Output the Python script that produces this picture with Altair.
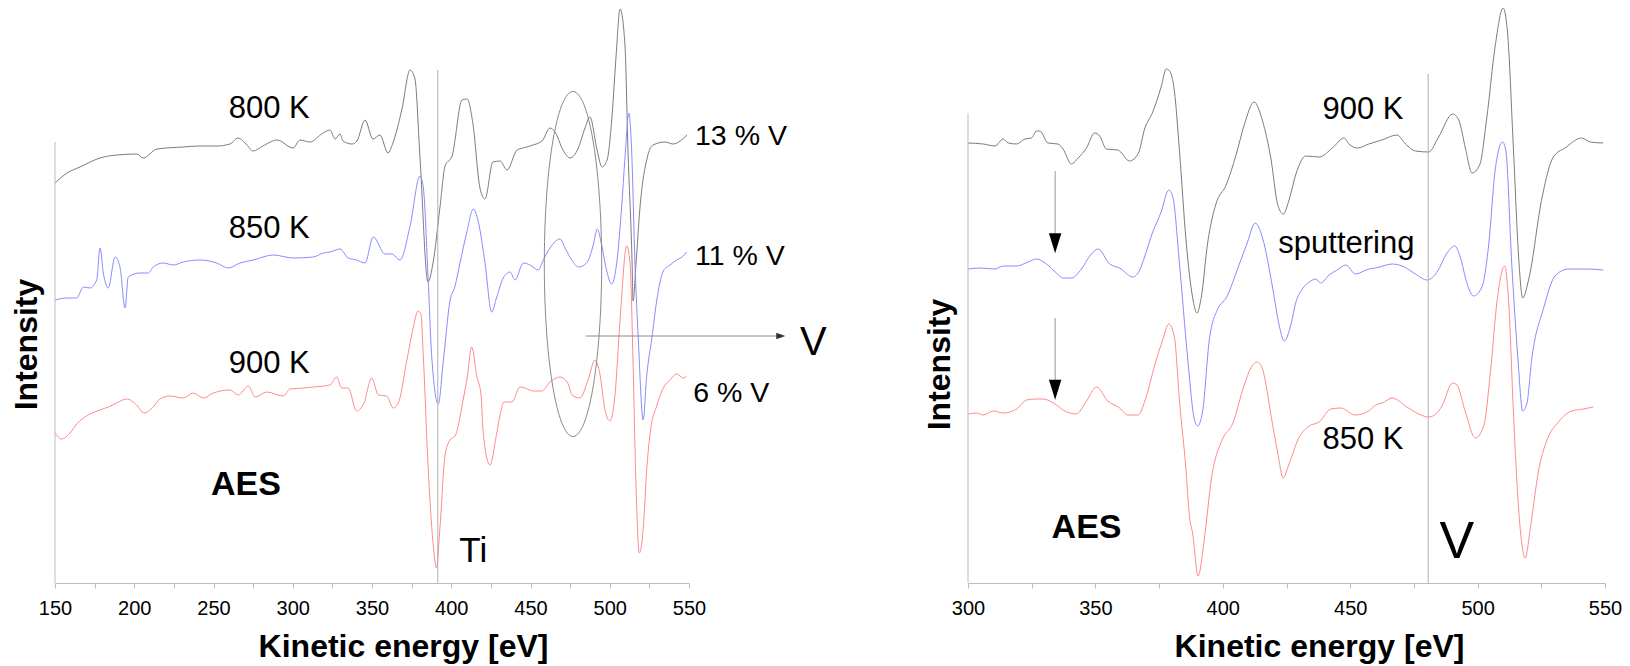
import math
import altair as alt
import pandas as pd

# ---------------- values ----------------
# (kinetic energy in eV, intensity in arbitrary units, offset curves)
LEFT_800K = [(150.0,400),(157.6,410),(165.8,416),(178.4,425),(189.1,428),(201.7,429),(205.5,425),(214.4,434),
 (230.8,436),(241.5,437),(252.2,437),(260.4,439),(265.5,445),(271.1,438),(274.9,432),(281.2,437),(290.1,443),
 (300.2,435),(304.6,443),(310.9,441),(319.1,450),(323.5,453),(326.7,444),(329.8,449),(331.7,442),(337.4,439),
 (340.5,442),(345.6,463),(350.6,444),(355.0,448),(360.1,430),(363.2,440),(368.9,474),(374.0,513),(377.1,504),
 (380.3,425),(385.3,301),(388.5,320),(392.9,376),(396.1,417),(400.5,427),(406.8,483),(410.0,484),(413.7,459),
 (418.1,395),(421.3,384),(426.3,421),(430.8,422),(435.2,413),(441.5,433),(445.3,435),(451.6,438),(457.3,442),
 (462.3,455),(465.5,451),(470.5,433),(474.9,425),(479.9,434),(484.4,455),(487.5,466),(492.0,433),(495.1,416),
 (498.3,423),(501.4,466),(504.0,527),(506.5,574),(509.6,538),(511.5,433),(514.1,320),(514.7,282),(516.6,320),
 (519.1,376),(523.6,425),(527.3,438),(534.9,441),(540.0,439),(544.4,442),(548.7,448)]
LEFT_850K = [(150.0,283),(157.4,285),(163.7,285),(167.9,296),(172.1,295),(176.3,303),(178.4,335),(180.5,310),
 (183.6,295),(187.9,326),(191.0,316),(194.2,275),(196.2,306),(203.6,310),(208.9,310),(212.0,316),(218.3,320),
 (224.6,318),(230.9,321),(241.5,323),(252.0,320),(259.3,315),(266.7,320),(275.1,323),(287.7,328),(300.3,325),
 (313.0,326),(319.3,330),(323.5,331),(329.8,334),(335.0,325),(340.3,323),(345.6,320),(350.8,346),(358.2,329),
 (362.4,329),(367.7,323),(374.0,357),(380.3,407),(382.4,395),(385.5,301),(387.7,226),(391.8,179),(395.0,222),
 (399.2,282),(402.4,297),(405.5,320),(409.7,350),(413.9,374),(417.1,361),(421.3,320),(425.5,271),(428.7,286),
 (432.8,305),(437.1,311),(440.2,303),(445.5,320),(449.7,318),(454.9,313),(458.1,323),(462.3,335),(468.6,344),
 (471.8,335),(476.0,323),(480.2,316),(485.4,320),(489.6,338),(492.1,354),(494.9,338),(498.1,312),(501.2,299),
 (504.4,320),(507.5,376),(509.6,425),(512.1,470),(513.8,433),(515.9,320),(518.0,244),(521.1,163),(523.3,207),
 (526.5,244),(529.6,282),(533.8,312),(538.0,318),(542.2,323),(546.4,327),(548.5,331)]
LEFT_900K = [(150.0,150),(154.2,144),(159.5,150),(163.7,159),(171.0,168),(178.4,173),(183.6,176),(188.9,180),
 (195.2,184),(201.5,178),(206.1,170),(212.0,176),(216.2,184),(222.6,187),(230.9,185),(237.3,190),(243.6,185),
 (249.9,190),(260.4,193),(265.6,188),(272.0,197),(276.2,186),(283.6,191),(294.0,187),(298.3,194),(306.7,195),
 (313.0,196),(323.5,198),(327.7,206),(330.9,195),(335.0,195),(340.3,172),(344.9,180),(349.8,205),(354.0,188),
 (359.3,187),(363.4,175),(366.6,180),(371.9,222),(376.1,256),(379.0,272),(380.9,269),(382.4,226),(385.5,113),
 (388.7,37),(390.7,15),(392.9,56),(396.1,128),(399.2,143),(402.4,147),(407.6,184),(410.0,205),(412.9,236),
 (416.1,207),(418.8,188),(420.2,150),(424.4,118),(428.7,150),(430.8,168),(433.3,181),(438.3,181),(443.4,196),
 (446.5,195),(451.8,192),(457.1,192),(462.3,201),(468.6,206),(473.8,199),(476.2,188),(481.2,185),(486.3,203),
 (490.7,223),(493.8,209),(497.0,173),(500.1,162),(503.3,188),(506.5,263),(510.7,337),(512.8,320),(514.9,207),
 (516.6,94),(518.7,30),(521.2,56),(523.3,113),(525.5,150),(529.6,177),(533.8,195),(538.0,203),(542.2,209),
 (546.4,205),(548.5,207)]

RIGHT_900K = [(300.0,440),(306.0,439),(310.6,437),(313.8,444),(315.8,440),(319.1,439),(322.3,444),(324.9,445),
 (326.9,452),(328.2,452),(331.4,440),(335.3,439),(337.3,434),(340.6,419),(343.2,425),(346.5,435),(349.7,450),
 (351.7,447),(354.3,434),(358.8,433),(363.4,422),(366.9,430),(369.3,454),(372.5,471),(375.8,496),(377.8,514),
 (379.1,512),(381.0,492),(383.0,432),(385.6,342),(388.2,285),(389.9,270),(391.5,285),(394.1,341),(397.3,379),
 (401.3,398),(405.2,428),(408.4,458),(412.3,481),(415.6,462),(418.9,424),(421.5,379),(423.7,369),(426.0,383),
 (428.7,409),(432.6,427),(437.8,426),(443.0,435),(447.6,445),(449.5,439),(452.8,435),(457.3,439),(462.4,443),
 (468.4,448),(471.7,439),(475.6,432),(480.8,431),(484.7,446),(490.2,469),(492.6,463),(495.2,435),(497.8,410),
 (500.8,418),(503.6,465),(506.9,537),(510.0,575),(511.7,552),(514.1,432),(516.1,326),(517.7,285),(520.0,303),
 (525.4,387),(529.7,426),(534.3,435),(540.8,445),(544.2,441),(549.3,440)]
RIGHT_SPUT = [(300.0,314),(304.7,315),(310.6,314),(313.8,317),(319.1,317),(323.6,321),(326.9,324),(330.8,319),
 (334.7,310),(337.3,305),(340.6,305),(344.5,314),(348.4,329),(351.0,334),(355.6,319),(359.5,315),(364.7,306),
 (367.4,313),(369.3,326),(372.5,351),(375.8,371),(378.8,393),(380.4,386),(383.0,319),(386.2,225),(388.8,164),
 (390.1,157),(392.1,172),(394.7,243),(398.0,274),(401.3,285),(406.5,319),(409.7,341),(412.7,360),(415.6,345),
 (419.5,296),(422.1,258),(424.1,242),(426.7,258),(428.7,281),(431.2,294),(434.5,302),(436.5,304),(438.4,300),
 (441.7,308),(444.9,313),(448.2,318),(452.1,309),(457.3,314),(460.0,315),(466.5,319),(470.4,317),(475.6,309),
 (480.2,303),(484.1,311),(488.0,330),(491.0,337),(493.2,326),(495.8,300),(498.4,287),(501.7,296),(504.3,337),
 (506.9,413),(509.8,441),(511.1,432),(513.4,319),(515.8,225),(517.7,172),(519.3,179),(521.3,225),(525.8,274),
 (530.4,307),(535.6,314),(540.2,314),(543.4,314),(549.3,313)]
RIGHT_850K = [(300.1,169),(303.4,170),(306.0,168),(309.9,172),(313.8,170),(319.1,174),(323.0,183),(326.9,184),
 (329.5,184),(334.1,179),(338.0,172),(342.5,169),(346.5,182),(350.4,196),(354.9,182),(359.5,175),(362.7,168),
 (366.7,168),(369.9,186),(373.2,217),(376.4,243),(378.8,259),(381.0,246),(383.0,182),(385.6,112),(386.9,67),
 (388.2,49),(390.3,7),(392.8,45),(395.5,104),(399.9,144),(403.8,159),(408.4,198),(411.0,215),(413.5,221),
 (415.6,214),(416.9,199),(418.9,168),(421.5,131),(423.7,105),(426.0,119),(430.0,146),(433.9,157),(437.8,161),
 (442.4,174),(446.3,175),(451.9,168),(457.3,172),(460.0,178),(462.6,180),(466.5,185),(472.2,176),(476.9,169),
 (480.8,166),(484.7,172),(486.0,177),(490.2,200),(491.9,198),(495.2,171),(499.1,145),(502.4,157),(505.0,210),
 (507.6,281),(510.6,317),(512.2,281),(514.1,168),(516.1,74),(518.7,25),(520.7,55),(523.9,112),(527.1,142),
 (531.7,161),(536.9,172),(541.5,174),(545.4,176)]

LEFT_NAMES = ["800 K", "850 K", "900 K"]
RIGHT_NAMES = ["900 K", "sputtering", "850 K"]
CURVE_COLORS = ["#7c7c7c", "#8a8aff", "#ff8a8a"]

LEFT_TICKS = list(range(150, 551, 25))
RIGHT_TICKS = list(range(300, 551, 25))

# annotations (energy, intensity)
LEFT_TXT = ["800 K", "850 K", "900 K", "13 % V", "11 % V", "6 % V", "Ti", "V"]
LEFT_TXT_E = [259.6, 259.6, 259.6, 553.8, 553.8, 552.7, 405.1, 620.0]
LEFT_TXT_I = [464.7, 344.7, 209.7, 438.0, 318.0, 181.3, 20.7, 228.0]
LEFT_TXT_FS = [31, 31, 31, 28.5, 28.5, 28.5, 35, 40]
RIGHT_TXT = ["900 K", "sputtering", "850 K", "V"]
RIGHT_TXT_E = [439.1, 421.8, 439.1, 485.0]
RIGHT_TXT_I = [463.7, 330.3, 133.7, 24.7]
RIGHT_TXT_FS = [31, 31, 31, 52]
LEFT_BOLD = ("AES", 248.4, 88.0, 34)
RIGHT_BOLD = ("AES", 332.8, 44.7, 34)

LEFT_MARKER = (391.5, 513)    # Ti line: energy, top
RIGHT_MARKER = (480.6, 509)   # V line
LEFT_AXIS_TOP = 441
RIGHT_AXIS_TOP = 470
ELLIPSE = (476.8, 319, 18.1, 172.5)  # centre E, centre I, half-width (eV), half-height
LEFT_ARROW = (485.0, 606.0, 247, 607.9)   # E start, E end, I, head centre E
RIGHT_ARROWS_E = 334.2
RIGHT_ARROWS = [(412, 345, 339.8), (265, 200, 193.3)]  # I start, I end, head centre I

FONT = "Liberation Sans"
XL = alt.Scale(domain=[150, 550], range=[0, 634], nice=False, zero=False)
XR = alt.Scale(domain=[300, 550], range=[913, 1550], nice=False, zero=False)
YS = alt.Scale(domain=[0, 575], nice=False, zero=False)


def x_axis(ticks, title_x):
    return alt.Axis(values=ticks, format="d",
                    labelExpr="datum.value % 50 === 0 ? datum.label : ''",
                    title="Kinetic energy [eV]", titleFont=FONT, titleFontSize=32,
                    titleFontWeight="bold", titleColor="black", titleX=title_x, titleY=48.5,
                    titleBaseline="top", titleAlign="center",
                    labelFont=FONT, labelFontSize=20, labelColor="black", labelPadding=10,
                    labelFlush=False, labelOverlap=False, tickSize=5, tickColor="#bdbdbd",
                    tickWidth=1, domainColor="#bdbdbd", domainWidth=1, grid=False, orient="bottom")


def y_axis(title_x, title_y):
    return alt.Axis(title="Intensity", titleFont=FONT, titleFontSize=32, titleFontWeight="bold",
                    titleColor="black", titleX=title_x, titleY=title_y, titleAngle=270,
                    titleBaseline="alphabetic", titleAlign="center", domain=False, ticks=False,
                    labels=False, grid=False, orient="left")


def curves_df(curves, names):
    rows = []
    for c, n, col in zip(curves, names, CURVE_COLORS):
        for k, (e, i) in enumerate(c):
            rows.append({"E": e, "I": i, "series": n, "col": col, "ord": k})
    return pd.DataFrame(rows)


def panel(curves, names, xs, xax, yax, txt, txt_e, txt_i, txt_fs, bold, marker, axis_top, x0):
    X = lambda f: alt.X(f, scale=xs, axis=xax)
    Y = lambda f: alt.Y(f, scale=YS, axis=yax)
    lines = alt.Chart(curves_df(curves, names)).mark_line(
        strokeWidth=1, interpolate="monotone").encode(
        x=X("E:Q"), y=Y("I:Q"), color=alt.Color("col:N", scale=None),
        detail="series:N", order="ord:Q")
    rules = alt.Chart(pd.DataFrame({"E": [marker[0], x0], "y0": [0, 0], "y1": [marker[1], axis_top],
                                    "c": ["#b0b0b0", "#bdbdbd"]})).mark_rule(strokeWidth=1).encode(
        x=X("E:Q"), y=Y("y0:Q"), y2="y1:Q", color=alt.Color("c:N", scale=None))
    tdf = pd.DataFrame({"E": txt_e, "I": txt_i, "txt": txt, "fs": txt_fs})
    texts = alt.Chart(tdf).mark_text(align="left", baseline="alphabetic", font=FONT,
                                     color="black").encode(
        x=X("E:Q"), y=Y("I:Q"), text="txt:N", size=alt.Size("fs:Q", scale=None))
    bdf = pd.DataFrame({"E": [bold[1]], "I": [bold[2]], "txt": [bold[0]]})
    btext = alt.Chart(bdf).mark_text(align="left", baseline="alphabetic", font=FONT,
                                     fontWeight="bold", fontSize=bold[3], color="black").encode(
        x=X("E:Q"), y=Y("I:Q"), text="txt:N")
    return [lines, rules, texts, btext], X, Y


left_layers, XLf, YLf = panel([LEFT_800K, LEFT_850K, LEFT_900K], LEFT_NAMES, XL,
                              x_axis(LEFT_TICKS, 348), y_axis(-18.5, 336),
                              LEFT_TXT, LEFT_TXT_E, LEFT_TXT_I, LEFT_TXT_FS, LEFT_BOLD,
                              LEFT_MARKER, LEFT_AXIS_TOP, 150)
right_layers, XRf, YRf = panel([RIGHT_900K, RIGHT_SPUT, RIGHT_850K], RIGHT_NAMES, XR,
                               x_axis(RIGHT_TICKS, 1264), y_axis(894, 356),
                               RIGHT_TXT, RIGHT_TXT_E, RIGHT_TXT_I, RIGHT_TXT_FS, RIGHT_BOLD,
                               RIGHT_MARKER, RIGHT_AXIS_TOP, 300)

# highlight ellipse (left panel)
ce, ci, ae, ai = ELLIPSE
ts = [k * 2 * math.pi / 96 for k in range(97)]
ell = pd.DataFrame({"E": [ce + ae * math.cos(t) for t in ts],
                    "I": [ci + ai * math.sin(t) for t in ts], "t": list(range(97))})
ellipse = alt.Chart(ell).mark_line(strokeWidth=1, color="#8a8a8a").encode(
    x=XLf("E:Q"), y=YLf("I:Q"), order="t:Q")

# horizontal arrow (left panel)
arr = pd.DataFrame({"E0": [LEFT_ARROW[0]], "E1": [LEFT_ARROW[1]], "I": [LEFT_ARROW[2]]})
arrow_l = alt.Chart(arr).mark_rule(strokeWidth=1, color="#8a8a8a").encode(
    x=XLf("E0:Q"), x2="E1:Q", y=YLf("I:Q"))
head_l = alt.Chart(pd.DataFrame({"E": [LEFT_ARROW[3]], "I": [LEFT_ARROW[2]]})).mark_point(
    shape="M-1,-0.7L1,0L-1,0.7Z", size=81, filled=True, color="#333333", opacity=1,
    strokeWidth=0).encode(x=XLf("E:Q"), y=YLf("I:Q"))

# vertical arrows (right panel)
ra = pd.DataFrame({"E": [RIGHT_ARROWS_E] * len(RIGHT_ARROWS),
                   "a": [a[0] for a in RIGHT_ARROWS], "b": [a[1] for a in RIGHT_ARROWS],
                   "h": [a[2] for a in RIGHT_ARROWS]})
arrow_r = alt.Chart(ra).mark_rule(strokeWidth=1, color="#999999").encode(
    x=XRf("E:Q"), y=YRf("a:Q"), y2="b:Q")
head_r = alt.Chart(ra).mark_point(
    shape="M-0.62,-1L0.62,-1L0,1Z", size=400, filled=True, color="black", opacity=1,
    strokeWidth=0).encode(x=XRf("E:Q"), y=YRf("h:Q"))

left = alt.layer(*left_layers, ellipse, arrow_l, head_l)
right = alt.layer(*right_layers, arrow_r, head_r)

chart = alt.layer(left, right).resolve_scale(
    x="independent", y="independent").resolve_axis(
    x="independent", y="independent").properties(
    width=1552, height=575,
    padding={"left": 47, "top": 0, "right": 15, "bottom": 82},
    autosize=alt.AutoSizeParams(type="none"),
    background="white").configure_view(stroke=None)

chart.save("out.html", embed_options={"renderer": "svg", "actions": False})
